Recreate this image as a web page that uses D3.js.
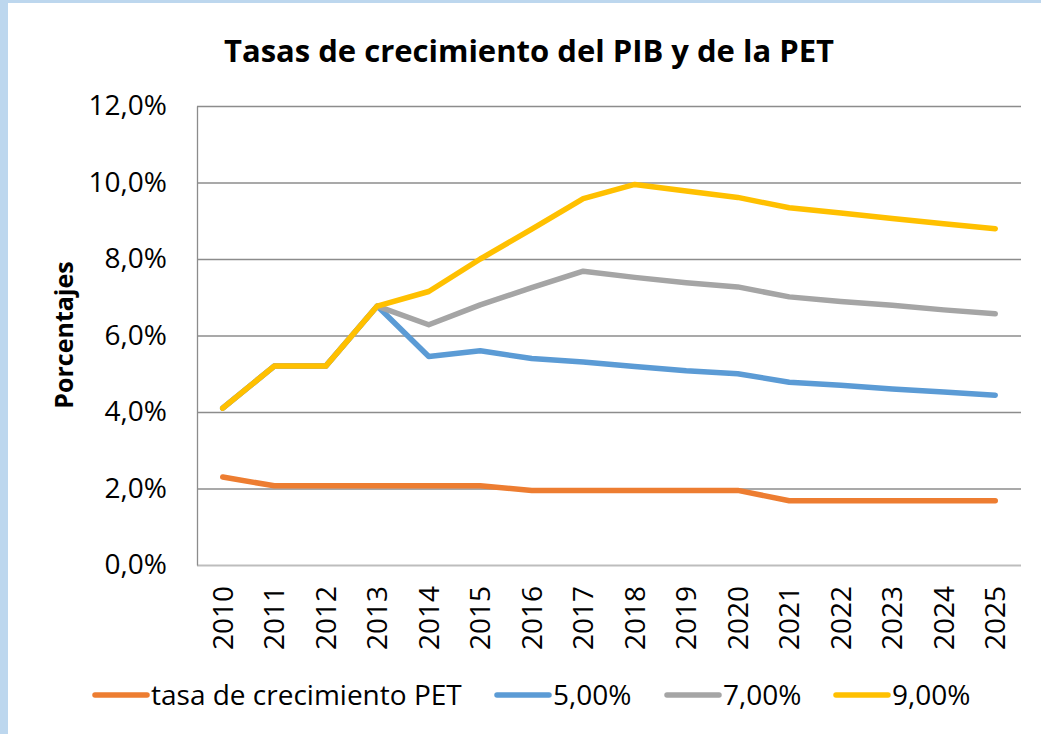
<!DOCTYPE html>
<html><head><meta charset="utf-8">
<script src="https://cdn.jsdelivr.net/npm/d3@7"></script>
<style>html,body{margin:0;padding:0;background:#fff;}svg{display:block;}</style>
</head><body>
<script>
const years = ["2010","2011","2012","2013","2014","2015","2016","2017","2018","2019","2020","2021","2022","2023","2024","2025"];
const seriesNames = ["tasa de crecimiento PET","5,00%","7,00%","9,00%"];
const seriesColors = ["#ED7D31","#5B9BD5","#A5A5A5","#FFC000"];
const petValues = [2.3,2.07,2.07,2.07,2.07,2.07,1.95,1.95,1.95,1.95,1.95,1.68,1.68,1.68,1.68,1.68];
const pib5Values = [4.1,5.2,5.2,6.77,5.45,5.6,5.4,5.31,5.19,5.08,5.0,4.78,4.7,4.6,4.52,4.44];
const pib7Values = [4.1,5.2,5.2,6.77,6.28,6.8,7.25,7.68,7.52,7.38,7.27,7.01,6.89,6.79,6.67,6.57];
const pib9Values = [4.1,5.2,5.2,6.77,7.15,8.0,8.78,9.58,9.95,9.78,9.61,9.34,9.2,9.06,8.92,8.79];
const yTicks = [0,2,4,6,8,10,12];
const title = "Tasas de crecimiento del PIB y de la PET";
const yTitle = "Porcentajes";

const allSeries = [petValues,pib5Values,pib7Values,pib9Values];
const W=1041,H=734;
const svg=d3.select("body").append("svg").attr("width",W).attr("height",H);
svg.append("rect").attr("width",W).attr("height",H).attr("fill","#fff");
svg.append("rect").attr("x",0).attr("y",0).attr("width",8).attr("height",H).attr("fill","#BDD7EE");
svg.append("rect").attr("x",0).attr("y",0).attr("width",W).attr("height",3).attr("fill","#BDD7EE");

const font="Open Sans, Lato, sans-serif";
const L=197,R=1021,T=106,B=565;
const x=d3.scaleBand().domain(years).range([L,R]);
const y=d3.scaleLinear().domain([0,12]).range([B,T]);

svg.append("text").attr("x",529).attr("y",62).attr("text-anchor","middle")
  .attr("font-family",font).attr("font-weight","bold").attr("font-size",31).attr("fill","#000").text(title);

// gridlines
const grid=svg.append("g").attr("transform",`translate(${L},0)`)
  .call(d3.axisLeft(y).tickValues(yTicks).tickSize(-(R-L)).tickFormat(""));
grid.select(".domain").remove();
grid.selectAll("line").attr("stroke","#8c8c8c").attr("stroke-width",1.3);
grid.selectAll(".tick").filter(d=>d===0).select("line").attr("stroke","#bdbdbd").attr("stroke-width",2);

// y axis labels
const ya=svg.append("g").attr("transform",`translate(${L},0)`)
  .call(d3.axisLeft(y).tickValues(yTicks).tickSize(0).tickPadding(30).tickFormat(d=>d3.format(".1f")(d).replace(".",",")+"%"));
ya.select(".domain").attr("stroke","#8c8c8c").attr("stroke-width",1.3);
ya.selectAll("text").attr("font-family",font).attr("font-size",28).attr("fill","#000");

// x axis labels
const xa=svg.append("g").attr("transform",`translate(0,${B})`)
  .call(d3.axisBottom(x).tickSize(0).tickFormat(d=>d));
xa.select(".domain").remove();
xa.selectAll("text").attr("font-family",font).attr("font-size",28).attr("fill","#000")
  .attr("transform","rotate(-90)").attr("text-anchor","end").attr("x",-21).attr("y",0).attr("dy","0.35em");

svg.append("text").attr("transform",`translate(73,${335}) rotate(-90)`).attr("text-anchor","middle")
  .attr("font-family",font).attr("font-weight","bold").attr("font-size",25).attr("fill","#000").text(yTitle);

const line=d3.line().x((d,i)=>x(years[i])+x.bandwidth()/2).y(d=>y(d));
[1,2,3,0].forEach(k=>{
  svg.append("path").datum(allSeries[k]).attr("d",line).attr("fill","none")
    .attr("stroke",seriesColors[k]).attr("stroke-width",5.5).attr("stroke-linejoin","round").attr("stroke-linecap","round");
});

// legend
const legX=[93,495,665,834];
seriesNames.forEach((n,i)=>{
  const g=svg.append("g").attr("transform",`translate(${legX[i]},695)`);
  g.append("line").attr("x1",2).attr("x2",54).attr("y1",0).attr("y2",0).attr("stroke",seriesColors[i]).attr("stroke-width",5.5).attr("stroke-linecap","round");
  g.append("text").attr("x",58).attr("y",0).attr("dy","0.35em").attr("font-family",font).attr("font-size",28).attr("fill","#000").text(n);
});
</script>
</body></html>
